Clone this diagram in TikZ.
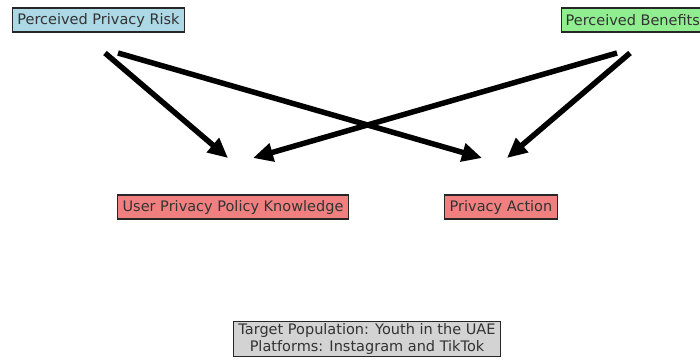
\documentclass[tikz,border=0pt]{standalone}
\usepackage{fontspec}
\setmainfont{DejaVu Sans}
\usetikzlibrary{arrows.meta}

\definecolor{boxblue}{HTML}{ADD8E6}
\definecolor{boxgreen}{HTML}{90EE90}
\definecolor{boxcoral}{HTML}{F08080}
\definecolor{boxgray}{HTML}{D3D3D3}

\tikzset{
  factor/.style={draw=black!85, line width=1.2pt, text=black!80,
    inner xsep=5pt, inner ysep=0pt, minimum height=24pt,
    font=\fontsize{14.5}{17.5}\selectfont},
  link/.style={line width=5.5pt, -{Triangle[length=20pt,width=18pt]}}
}

\begin{document}
\begin{tikzpicture}[x=1pt,y=-1pt]
    \useasboundingbox (0,0) rectangle (700,359);
    \clip (0,0) rectangle (700,359);

    % constructs
    \node[factor, fill=boxblue] (risk) at (98.5,20) {Perceived Privacy Risk};
    \node[factor, fill=boxgreen, anchor=west, inner xsep=4pt] (benefit) at (561,20) {Perceived Benefits};
    \node[factor, fill=boxcoral] (knowledge) at (233,207) {User Privacy Policy Knowledge};
    \node[factor, fill=boxcoral] (action) at (501,207) {Privacy Action};

    % sample
    \node[factor, fill=boxgray, align=center, inner ysep=2pt]
      (population) at (367,339) {Target Population: Youth in the UAE\\Platforms: Instagram and TikTok};

    % arrow ends (arrows stop short of the boxes)
    \coordinate (risk-k) at (105,53);
    \coordinate (risk-a) at (118,53);
    \coordinate (benefit-k) at (617,53);
    \coordinate (benefit-a) at (630,53);
    \coordinate (knowledge-r) at (228,158);
    \coordinate (knowledge-b) at (253,158);
    \coordinate (action-r) at (482,158);
    \coordinate (action-b) at (507,158);

    \draw[link] (risk-k) -- (knowledge-r);
    \draw[link] (risk-a) -- (action-r);
    \draw[link] (benefit-k) -- (knowledge-b);
    \draw[link] (benefit-a) -- (action-b);
\end{tikzpicture}
\end{document}
